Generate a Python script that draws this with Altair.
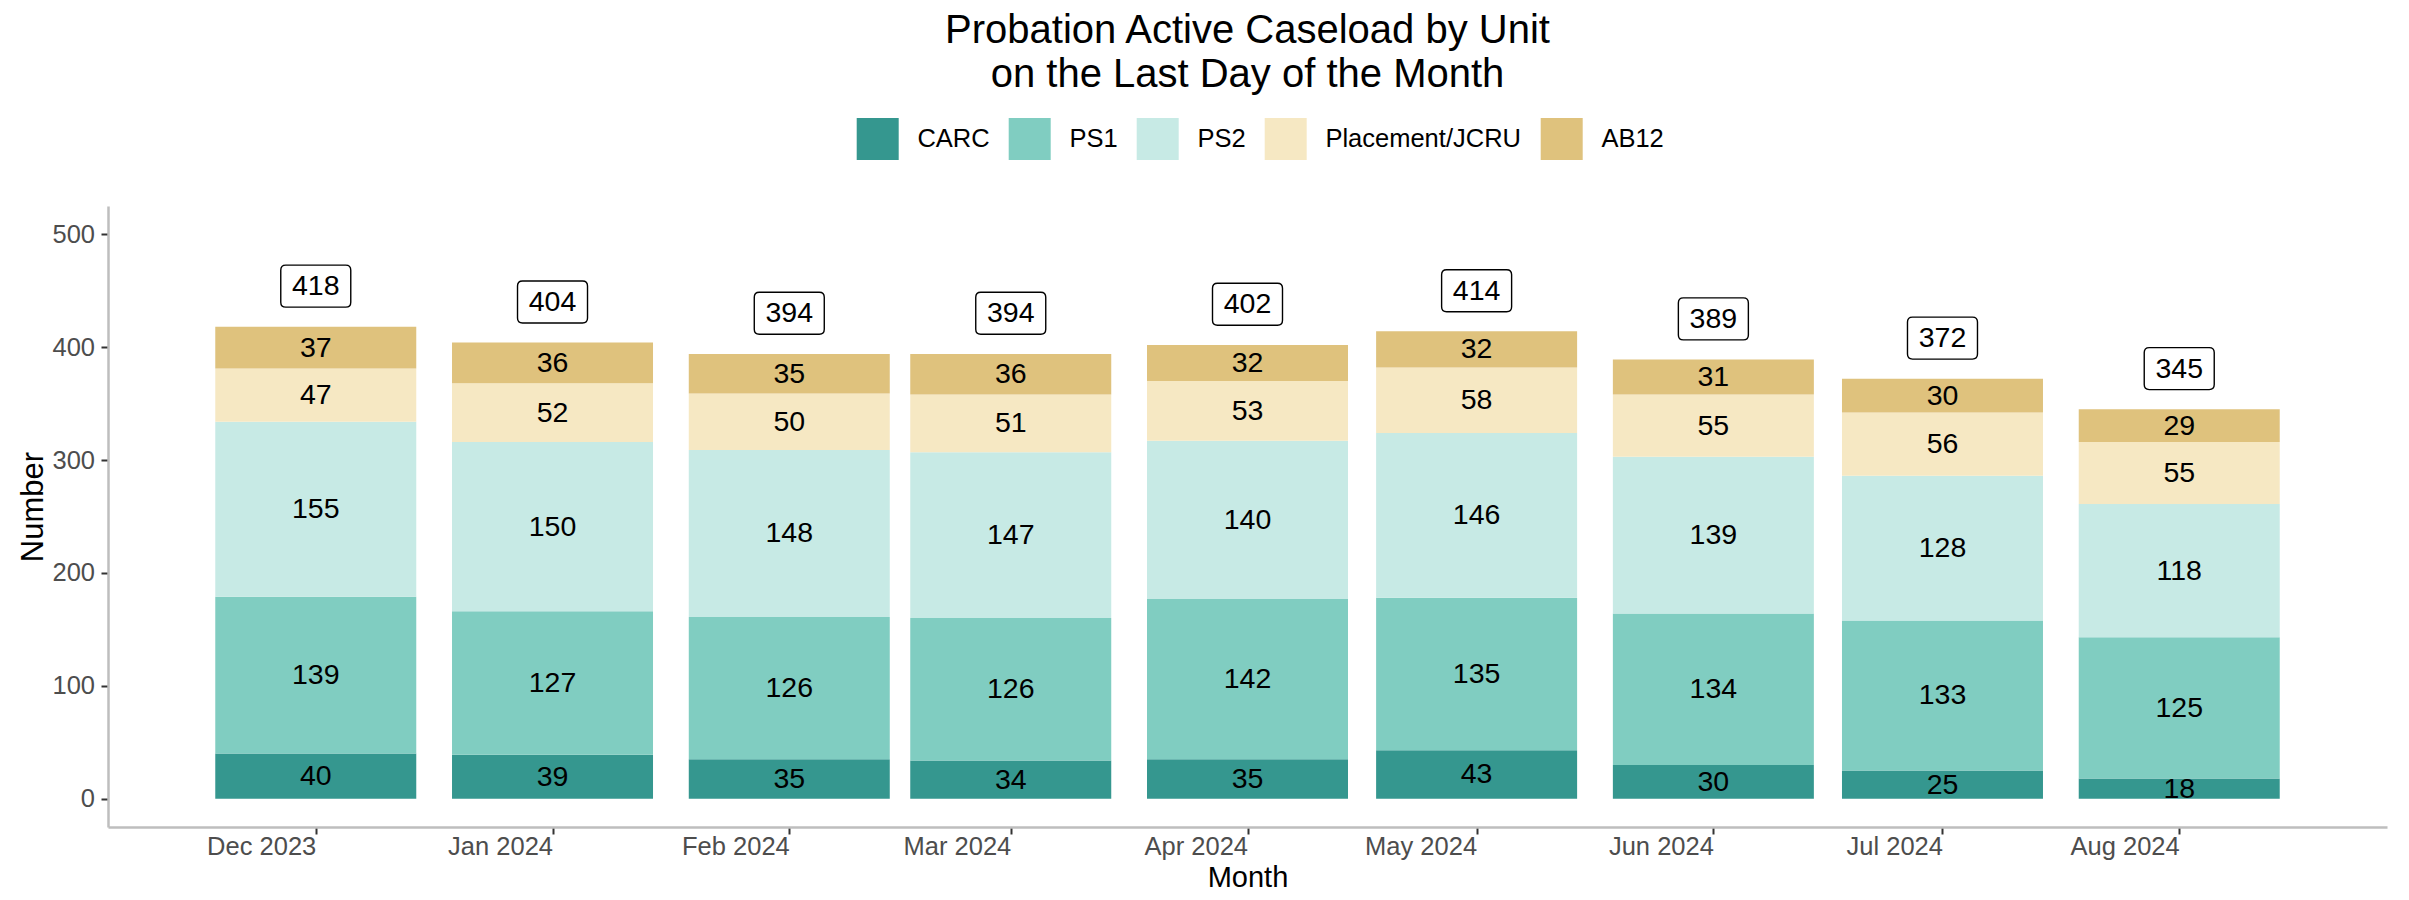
import altair as alt
import pandas as pd

# ---- data ----
months = ["2023-12-01", "2024-01-01", "2024-02-01", "2024-03-01", "2024-04-01",
          "2024-05-01", "2024-06-01", "2024-07-01", "2024-08-01"]
units = ["CARC", "PS1", "PS2", "Placement/JCRU", "AB12"]
carc = [40, 39, 35, 34, 35, 43, 30, 25, 18]
ps1 = [139, 127, 126, 126, 142, 135, 134, 133, 125]
ps2 = [155, 150, 148, 147, 140, 146, 139, 128, 118]
placement = [47, 52, 50, 51, 53, 58, 55, 56, 55]
ab12 = [37, 36, 35, 36, 32, 32, 31, 30, 29]
colors = ["#35978F", "#80CDC1", "#C7EAE5", "#F6E8C3", "#DFC27D"]
y_ticks = [0, 100, 200, 300, 400, 500]
total_nudge = 36

series = {"CARC": carc, "PS1": ps1, "PS2": ps2, "Placement/JCRU": placement, "AB12": ab12}
rows = []
for rank, u in enumerate(units):
    for m, v in zip(months, series[u]):
        rows.append({"month": m, "unit": u, "rank": rank, "value": v})
df = pd.DataFrame(rows)

FONT = "Liberation Sans"


def dt(s, hours=0, minutes=0):
    y, mo, d = (int(p) for p in s.split("-"))
    return alt.DateTime(year=y, month=mo, date=d, hours=hours, minutes=minutes, utc=True)


x_scale = alt.Scale(type="utc", domain=[dt("2023-11-04", 10, 48), dt("2024-08-27", 13, 12)])
y_scale = alt.Scale(domain=[-25, 525], nice=False, zero=False)

x_axis = alt.Axis(
    values=[dt(m) for m in months],
    labelExpr="utcFormat(datum.value, '%b %Y')",
    labelAlign="right", labelBaseline="alphabetic", labelPadding=20,
    labelFontSize=25.5, labelColor="#4D4D4D", labelFont=FONT,
    labelFlush=False, labelOverlap=False,
    tickColor="#333333", tickSize=7, tickWidth=2,
    domainColor="#BEBEBE", domainWidth=2.5, grid=False,
    title="Month", titleFontSize=29, titleFont=FONT, titleFontWeight="normal",
    titleColor="black", titleBaseline="alphabetic", titleX=1139.5, titleY=59,
    titleAlign="center",
)
y_axis = alt.Axis(
    values=y_ticks, labelFontSize=25.5, labelColor="#4D4D4D", labelFont=FONT,
    labelPadding=6.5, tickColor="#333333", tickSize=7, tickWidth=2,
    domainColor="#BEBEBE", domainWidth=2.5, grid=False,
    title="Number", titleFontSize=31, titleFont=FONT, titleFontWeight="normal",
    titleColor="black", titleBaseline="alphabetic", titleAngle=-90,
    titleX=-66, titleY=300.5, titleAlign="center",
)

X = alt.X("month:T", scale=x_scale, axis=x_axis)

base = alt.Chart(df)

bars = base.mark_bar(size=201).encode(
    x=X,
    y=alt.Y("value:Q", stack="zero", scale=y_scale, axis=y_axis),
    color=alt.Color(
        "unit:N",
        scale=alt.Scale(domain=units, range=colors),
        sort=units,
        legend=alt.Legend(
            title=None, orient="none", legendX=748.7, legendY=-88,
            direction="horizontal", symbolType="square", symbolSize=1764,
            symbolStrokeWidth=0, symbolOpacity=1, labelFontSize=25.5, labelColor="black",
            labelFont=FONT, labelOffset=18.7, columnPadding=19, padding=0,
            labelLimit=500,
        ),
    ),
    order=alt.Order("rank:Q", sort="ascending"),
)

seg_text = base.transform_stack(
    stack="value", as_=["y0", "y1"], groupby=["month"],
    sort=[alt.SortField("rank", order="ascending")],
).transform_calculate(
    mid="(datum.y0 + datum.y1) / 2"
).mark_text(fontSize=28.5, font=FONT, color="black", baseline="middle").encode(
    x=X,
    y=alt.Y("mid:Q", scale=y_scale, axis=y_axis),
    text=alt.Text("value:Q"),
)

totals = base.transform_aggregate(
    total="sum(value)", groupby=["month"]
).transform_calculate(label_y=f"datum.total + {total_nudge}")

box_path = ("M-0.857,-0.6 L0.857,-0.6 Q1,-0.6 1,-0.457 L1,0.457 Q1,0.6 0.857,0.6 "
            "L-0.857,0.6 Q-1,0.6 -1,0.457 L-1,-0.457 Q-1,-0.6 -0.857,-0.6 Z")
boxes = totals.mark_point(
    shape=box_path, size=4900, filled=True, fill="white", stroke="black",
    strokeWidth=1.4, opacity=1,
).encode(
    x=X,
    y=alt.Y("label_y:Q", scale=y_scale, axis=y_axis),
)
box_text = totals.mark_text(fontSize=28.5, font=FONT, color="black", baseline="middle").encode(
    x=X,
    y=alt.Y("label_y:Q", scale=y_scale, axis=y_axis),
    text=alt.Text("total:Q"),
)

chart = alt.layer(bars, seg_text, boxes, box_text).properties(
    width=2279, height=621,
    autosize=alt.AutoSizeParams(type="none"),
    padding={"left": 100, "top": 198, "right": 14, "bottom": 65},
    title=alt.TitleParams(
        text=["Probation Active Caseload by Unit", "on the Last Day of the Month"],
        fontSize=40, font=FONT, fontWeight="normal", color="black",
        anchor="middle", frame="group", offset=23, lineHeight=44,
    ),
).configure(background="white").configure_view(stroke=None)

chart.save("out.html", embed_options={"renderer": "svg", "actions": False})
